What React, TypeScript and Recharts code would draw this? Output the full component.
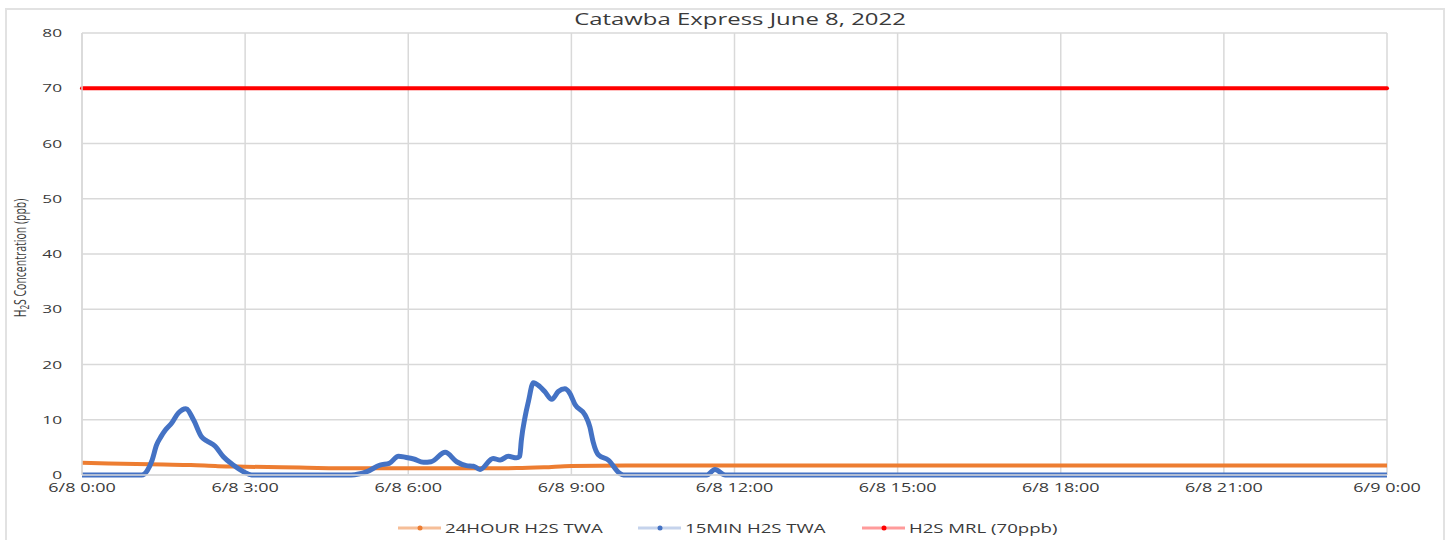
import { LineChart, Line, XAxis, YAxis, CartesianGrid } from "recharts";

// hours since 6/8 0:00
const xTicks = [0, 3, 6, 9, 12, 15, 18, 21, 24];
const xTickLabels = [
  "6/8 0:00",
  "6/8 3:00",
  "6/8 6:00",
  "6/8 9:00",
  "6/8 12:00",
  "6/8 15:00",
  "6/8 18:00",
  "6/8 21:00",
  "6/9 0:00",
];
const yTicks = [0, 10, 20, 30, 40, 50, 60, 70, 80];

const twa24Hours = [0, 0.5, 1, 1.5, 2, 2.5, 3, 4, 5, 6, 7, 8, 8.5, 9, 10, 24];
const twa24Values = [2.2, 2.1, 2.0, 1.9, 1.8, 1.6, 1.5, 1.35, 1.2, 1.2, 1.2, 1.25, 1.4, 1.65, 1.7, 1.7];

const twa15Hours = [
  0, 1.1, 1.2, 1.29, 1.37, 1.45, 1.53, 1.65, 1.77, 1.91, 2.05, 2.2, 2.29, 2.45, 2.6, 2.78, 2.97, 3.12,
  4.95, 5.24, 5.48, 5.65, 5.82, 5.95, 6.1, 6.28, 6.42, 6.68, 6.89, 7.07, 7.2, 7.32, 7.56, 7.69, 7.84,
  7.99, 8.05, 8.08, 8.15, 8.21, 8.3, 8.42, 8.51, 8.64, 8.76, 8.88, 8.97, 9.07, 9.25, 9.34, 9.4, 9.5,
  9.68, 9.89, 9.96, 11.49, 11.64, 11.83, 24,
];
const twa15Values = [
  0, 0, 0.8, 2.7, 5.4, 6.9, 8.1, 9.4, 11.2, 12.0, 10.0, 6.9, 6.2, 5.2, 3.3, 1.8, 0.6, 0,
  0, 0.6, 1.8, 2.1, 3.4, 3.2, 2.9, 2.3, 2.4, 4.1, 2.4, 1.7, 1.6, 1.0, 3.0, 2.7, 3.4,
  3.1, 3.4, 6.3, 10.6, 13.3, 16.7, 16.0, 15.1, 13.7, 15.1, 15.6, 14.8, 12.7, 10.9, 8.7, 6.0, 3.6,
  2.7, 0.3, 0, 0, 1.0, 0, 0,
];

const mrlHours = [0, 24];
const mrlValues = [70, 70];

const toRows = (hours: number[], values: number[]) =>
  hours.map((h, i) => ({ h, v: values[i] }));

const twa24Data = toRows(twa24Hours, twa24Values);
const twa15Data = toRows(twa15Hours, twa15Values);
const mrlData = toRows(mrlHours, mrlValues);

const FONT = "'Open Sans', 'Noto Sans', sans-serif";
const TEXT = "#3a3a3a";
const GRID = "#d9d9d9";
const STRETCH = 1.5;

const XTick = (props: any) => {
  const { x, y, payload } = props;
  const idx = xTicks.indexOf(payload.value);
  return (
    <g transform={`translate(${x},${y + 17}) scale(${STRETCH},1)`}>
      <text textAnchor="middle" fontFamily={FONT} fontSize={12} fill={TEXT}>
        {xTickLabels[idx]}
      </text>
    </g>
  );
};

const YTick = (props: any) => {
  const { x, y, payload } = props;
  return (
    <g transform={`translate(${x},${y + 4}) scale(${STRETCH},1)`}>
      <text textAnchor="end" fontFamily={FONT} fontSize={11.5} fill={TEXT}>
        {payload.value}
      </text>
    </g>
  );
};

const legendItems = [
  { label: "24HOUR H2S TWA", color: "#ED7D31", faded: "#F6BE98", x: 398 },
  { label: "15MIN H2S TWA", color: "#4472C4", faded: "#C5D3EC", x: 638 },
  { label: "H2S MRL (70ppb)", color: "#FF0000", faded: "#FF9B9B", x: 862 },
];

export default function App() {
  return (
    <div style={{ position: "absolute", left: 0, top: 0, width: 1450, height: 540, background: "#fff" }}>
      <div
        style={{
          position: "absolute",
          left: 5,
          top: 8,
          width: 1436,
          height: 540,
          border: "2px solid #e2e2e2",
          borderBottom: "none",
        }}
      />
      <div style={{ position: "absolute", left: 0, top: 0 }}>
        <LineChart width={1450} height={540} margin={{ top: 33, right: 63, bottom: 35, left: 0 }}>
          <CartesianGrid stroke={GRID} strokeWidth={1.5} vertical horizontal />
          <XAxis
            type="number"
            dataKey="h"
            domain={[0, 24]}
            ticks={xTicks}
            interval={0}
            allowDuplicatedCategory={false}
            tick={<XTick />}
            tickLine={false}
            tickSize={0}
            tickMargin={0}
            height={30}
            axisLine={{ stroke: GRID, strokeWidth: 1.5 }}
          />
          <YAxis
            type="number"
            domain={[0, 80]}
            ticks={yTicks}
            interval={0}
            tick={<YTick />}
            tickLine={false}
            tickSize={0}
            tickMargin={20}
            width={82}
            axisLine={{ stroke: GRID, strokeWidth: 1.5 }}
          />
          <Line
            data={twa24Data}
            dataKey="v"
            type="monotone"
            stroke="#ED7D31"
            strokeWidth={4}
            dot={false}
            isAnimationActive={false}
          />
          <Line
            data={twa15Data}
            dataKey="v"
            type="monotone"
            stroke="#4472C4"
            strokeWidth={5}
            dot={false}
            isAnimationActive={false}
          />
          <Line
            data={mrlData}
            dataKey="v"
            type="linear"
            stroke="#FF0000"
            strokeWidth={4}
            strokeLinecap="round"
            dot={false}
            isAnimationActive={false}
          />
        </LineChart>
      </div>
      <svg
        width={1450}
        height={540}
        style={{ position: "absolute", left: 0, top: 0, pointerEvents: "none" }}
      >
        <g transform={`translate(740,25) scale(1.45,1)`}>
          <text textAnchor="middle" fontFamily={FONT} fontSize={16.5} fill={TEXT}>
            Catawba Express June 8, 2022
          </text>
        </g>
        <g transform="translate(26,258) rotate(-90) scale(1,1.5)">
          <text textAnchor="middle" fontFamily={FONT} fontSize={10.5} fill={TEXT}>
            H
            <tspan fontSize={8} dy={2}>2</tspan>
            <tspan dy={-2}>S Concentration (ppb)</tspan>
          </text>
        </g>
        {legendItems.map((it) => (
          <g key={it.label}>
            <line x1={it.x} x2={it.x + 43} y1={528} y2={528} stroke={it.faded} strokeWidth={3} />
            <circle cx={it.x + 22} cy={528} r={2.5} fill={it.color} />
            <g transform={`translate(${it.x + 47},532.5) scale(1.55,1)`}>
              <text fontFamily={FONT} fontSize={12} fill={TEXT}>
                {it.label}
              </text>
            </g>
          </g>
        ))}
      </svg>
    </div>
  );
}
